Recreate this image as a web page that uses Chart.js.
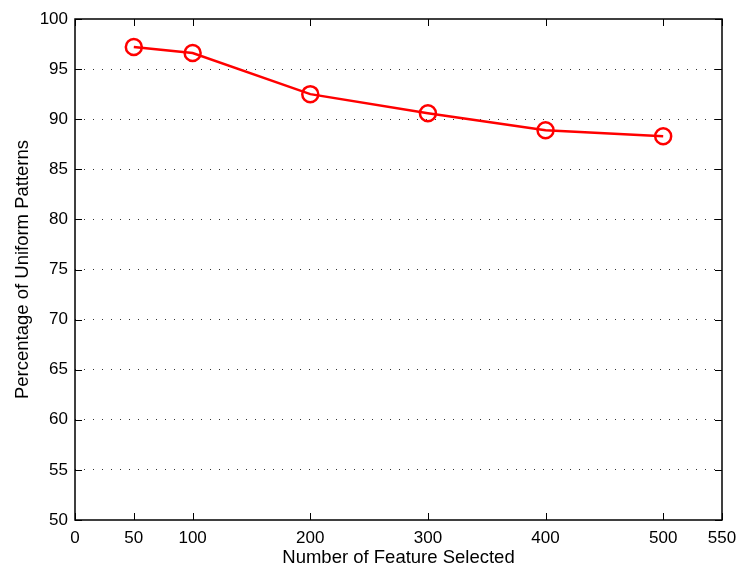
<!DOCTYPE html>
<html>
<head>
<meta charset="utf-8">
<script src="https://cdn.jsdelivr.net/npm/chart.js@4.4.1/dist/chart.umd.min.js"></script>
<style>
  html, body { margin: 0; padding: 0; background: #fff; }
  #wrap { width: 736px; height: 569px; }
</style>
</head>
<body>
<div id="wrap"><canvas id="chart" width="736" height="569"></canvas></div>
<script>
// data
var featureCounts = [50, 100, 200, 300, 400, 500];
var uniformPct = [97.2, 96.6, 92.5, 90.6, 88.9, 88.3];
var xTickValues = [0, 50, 100, 200, 300, 400, 500, 550];
var yTickValues = [50, 55, 60, 65, 70, 75, 80, 85, 90, 95, 100];

// box around the plot and inward ticks, matlab style
var boxPlugin = {
    id: 'box',
    afterDatasetsDraw: function(chart) {
        var ctx = chart.ctx;
        var a = chart.chartArea;
        var xs = chart.scales.x, ys = chart.scales.y;
        var len = 7;
        ctx.save();
        ctx.strokeStyle = '#000';
        ctx.lineWidth = 1;
        ctx.beginPath();
        xTickValues.forEach(function(v) {
            var px = Math.round(xs.getPixelForValue(v)) + 0.5;
            ctx.moveTo(px, a.bottom); ctx.lineTo(px, a.bottom - len);
            ctx.moveTo(px, a.top); ctx.lineTo(px, a.top + len);
        });
        yTickValues.forEach(function(v) {
            var py = Math.round(ys.getPixelForValue(v)) + 0.5;
            ctx.moveTo(a.left, py); ctx.lineTo(a.left + len, py);
            ctx.moveTo(a.right, py); ctx.lineTo(a.right - len, py);
        });
        ctx.stroke();
        ctx.lineWidth = 1.5;
        ctx.strokeRect(a.left, a.top, a.right - a.left, a.bottom - a.top);
        ctx.restore();
    }
};

var ctx = document.getElementById('chart').getContext('2d');
var myChart = new Chart(ctx, {
    type: 'line',
    data: {
        datasets: [{
            data: featureCounts.map(function(x, i) { return { x: x, y: uniformPct[i] }; }),
            borderColor: 'rgb(255, 0, 0)',
            borderWidth: 2.5,
            pointRadius: 8,
            pointBorderWidth: 2.5,
            pointBorderColor: 'rgb(255, 0, 0)',
            pointBackgroundColor: 'rgba(0,0,0,0)',
            tension: 0
        }]
    },
    options: {
        responsive: false,
        animation: false,
        plugins: {
            legend: { display: false },
            tooltip: { enabled: false }
        },
        layout: {
            padding: { left: 12, right: 14, top: 19, bottom: 0 }
        },
        scales: {
            x: {
                type: 'linear',
                min: 0,
                max: 550,
                afterBuildTicks: function(scale) {
                    scale.ticks = xTickValues.map(function(v) { return { value: v }; });
                },
                afterFit: function(scale) {
                    scale.height = 49;
                    scale.paddingLeft = 0;
                    scale.paddingRight = 0;
                },
                grid: { display: false, drawTicks: false },
                border: { display: false },
                ticks: {
                    color: '#000',
                    padding: 8,
                    maxRotation: 0,
                    autoSkip: false,
                    font: { family: 'Liberation Sans, Arial, sans-serif', size: 17 }
                },
                title: {
                    display: true,
                    text: 'Number of Feature Selected',
                    color: '#000',
                    padding: { top: 3, bottom: 0 },
                    font: { family: 'Liberation Sans, Arial, sans-serif', size: 18.5 }
                }
            },
            y: {
                min: 50,
                max: 100,
                afterBuildTicks: function(scale) {
                    scale.ticks = yTickValues.map(function(v) { return { value: v }; });
                },
                afterFit: function(scale) {
                    scale.width = 63;
                    scale.paddingTop = 0;
                    scale.paddingBottom = 0;
                },
                grid: {
                    drawTicks: false,
                    color: function(c) {
                        return (c.tick.value === 50 || c.tick.value === 100) ? 'rgba(0,0,0,0)' : '#333';
                    },
                    lineWidth: 1
                },
                border: { display: false, dash: [1, 8] },
                ticks: {
                    color: '#000',
                    padding: 7,
                    font: { family: 'Liberation Sans, Arial, sans-serif', size: 17 }
                },
                title: {
                    display: true,
                    text: 'Percentage of Uniform Patterns',
                    color: '#000',
                    padding: { top: 0, bottom: 2 },
                    font: { family: 'Liberation Sans, Arial, sans-serif', size: 18.5 }
                }
            }
        }
    },
    plugins: [boxPlugin]
});
</script>
</body>
</html>
